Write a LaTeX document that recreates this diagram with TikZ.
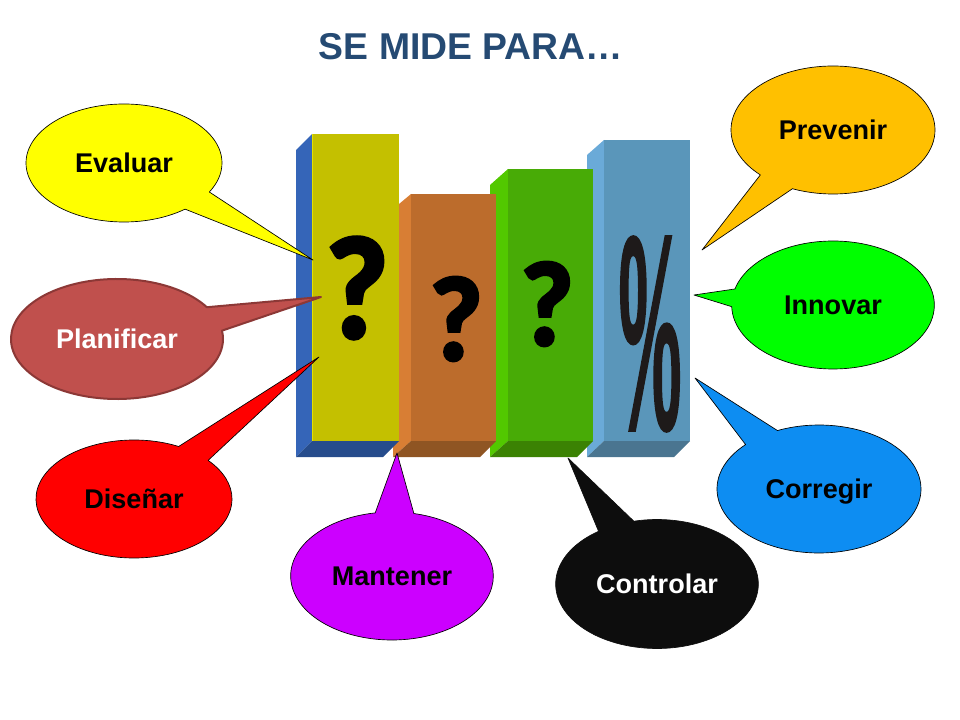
\documentclass[tikz,border=0pt]{standalone}
\usepackage{fontspec}
\setmainfont{Liberation Sans}
\newfontfamily\markfont[BoldFeatures={FakeBold=3}]{Carlito}
\newfontfamily\pctfont[FakeBold=4]{Liberation Serif}
\usetikzlibrary{shapes.callouts}
\definecolor{titleblue}{HTML}{254A73}
\definecolor{oneside}{HTML}{3565B8}
\definecolor{onefront}{HTML}{C4C000}
\definecolor{onebase}{HTML}{264C8C}
\definecolor{oneedge}{HTML}{E4E000}
\definecolor{twoside}{HTML}{D87E34}
\definecolor{twofront}{HTML}{BC6C2C}
\definecolor{twobase}{HTML}{8F5523}
\definecolor{threeside}{HTML}{52C800}
\definecolor{threefront}{HTML}{48AB06}
\definecolor{threebase}{HTML}{3B8203}
\definecolor{fourside}{HTML}{6AAAD8}
\definecolor{fourfront}{HTML}{5A96BA}
\definecolor{fourbase}{HTML}{4A7590}
\definecolor{marktext}{HTML}{1E1A1A}
\definecolor{evaluarfill}{HTML}{FFFF00}
\definecolor{planfill}{HTML}{C0504D}
\definecolor{plandraw}{HTML}{8C3836}
\definecolor{disenarfill}{HTML}{FF0000}
\definecolor{controlfill}{HTML}{0D0D0D}
\definecolor{mantenerfill}{HTML}{CC00FF}
\definecolor{corregirfill}{HTML}{0D8DF2}
\definecolor{innovarfill}{HTML}{00FF00}
\definecolor{prevenirfill}{HTML}{FFC000}
\begin{document}
\begin{tikzpicture}[x=0.75pt,y=-0.75pt,
    bubble/.style={ellipse callout,draw=black,line width=0.5pt,line join=round,callout pointer arc=22,inner sep=0pt,text height=14pt,text depth=0pt,font=\bfseries\fontsize{20.3}{24}\selectfont},
    question/.style={font=\markfont\bfseries\fontsize{80}{80}\selectfont,inner sep=0pt}]

    \useasboundingbox (0,0) rectangle (960,720);

    \node[font=\bfseries\fontsize{28}{34}\selectfont,text=titleblue] (title) at (471,47) {SE MIDE PARA…};

    % bars, back to front
    \fill[fourside] (587,155) -- (604,140) -- (604,441) -- (587,457) -- cycle;
    \fill[fourfront] (604,140) rectangle (690,441);
    \fill[fourbase] (587,457) -- (604,441) -- (690,441) -- (674,457) -- cycle;

    \fill[threeside] (490,185) -- (508,169) -- (508,441) -- (490,457) -- cycle;
    \fill[threefront] (508,169) rectangle (593,441);
    \fill[threebase] (490,457) -- (508,441) -- (593,441) -- (577,457) -- cycle;

    \fill[twoside] (399,204) -- (411,194) -- (411,441) -- (393,457) -- (393,441) -- cycle;
    \fill[twofront] (411,194) rectangle (496,441);
    \fill[twobase] (393,457) -- (411,441) -- (496,441) -- (480,457) -- cycle;

    \fill[oneside] (296,150) -- (312,134) -- (312,441) -- (296,457) -- cycle;
    \fill[onefront] (312,134) rectangle (399,441);
    \fill[onebase] (296,457) -- (312,441) -- (399,441) -- (383,457) -- cycle;
    \draw[oneedge,line width=0.8pt] (312.5,134) -- (312.5,441);

    % marks on the bars
    \node[question,xscale=1.28,yscale=1.36] (mark1) at (357,288) {?};
    \node[question,xscale=1.08,yscale=1.12] (mark2) at (456,319) {?};
    \node[question,xscale=1.08,yscale=1.12] (mark3) at (547,304) {?};
    \node[font=\pctfont\fontsize{80}{80}\selectfont,inner sep=0pt,text=marktext,xscale=0.7,yscale=2.58] (mark4) at (650,334) {\%};

    % callouts
    \node[bubble,fill=evaluarfill,minimum width=147pt,minimum height=88.5pt,callout absolute pointer={(313,260)}] (evaluar) at (124,163) {Evaluar};
    \node[bubble,draw=plandraw,line width=1.5pt,fill=planfill,text=white,minimum width=159pt,minimum height=90pt,callout pointer arc=24,callout absolute pointer={(321,297)}] (planificar) at (117,339) {Planificar};
    \node[bubble,fill=disenarfill,minimum width=147pt,minimum height=88.5pt,callout absolute pointer={(319,357)}] (disenar) at (134,499) {Diseñar};
    \node[bubble,fill=controlfill,text=white,minimum width=152pt,minimum height=96.75pt,draw=controlfill,callout absolute pointer={(568,458)}] (controlar) at (657,584) {Controlar};
    \node[bubble,fill=mantenerfill,minimum width=152pt,minimum height=96pt,callout absolute pointer={(397,453)}] (mantener) at (392,576) {Mantener};
    \node[bubble,fill=corregirfill,minimum width=153pt,minimum height=96pt,callout absolute pointer={(695,378)}] (corregir) at (819,489) {Corregir};
    \node[bubble,fill=innovarfill,minimum width=152pt,minimum height=96pt,callout pointer arc=16,callout absolute pointer={(694,295)}] (innovar) at (833,305) {Innovar};
    \node[bubble,fill=prevenirfill,minimum width=153pt,minimum height=96pt,callout absolute pointer={(702,250)}] (prevenir) at (833,130) {Prevenir};

\end{tikzpicture}
\end{document}
